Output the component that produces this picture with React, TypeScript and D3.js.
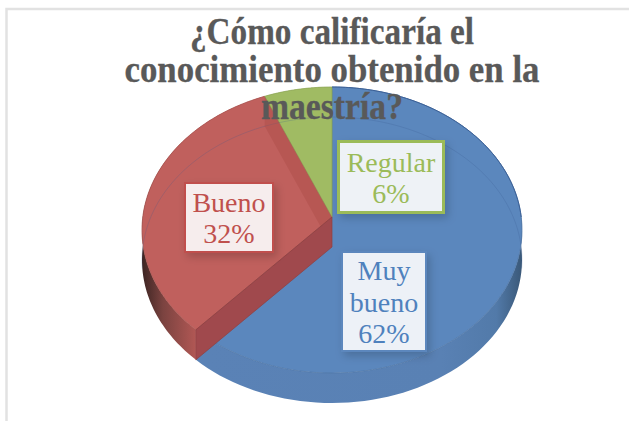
import React from "react";
import * as d3 from "d3";

const categories = ["Muy bueno", "Bueno", "Regular"];
const values = [61.7, 32.0, 6.3];
const colors = ["#5b87bd", "#c0605d", "#a0bb63"];
const titleLines = ["¿Cómo calificaría el", "conocimiento obtenido en la", "maestría?"];
const titleWidths = [284, 415, 142];
const labelLines = [["Muy", "bueno", "62%"], ["Bueno", "32%"], ["Regular", "6%"]];
const labelColors = ["#4f81bd", "#c0504d", "#9bbb59"];
const labelBoxes = [
  { x: 342, y: 252, w: 84, h: 99, fill: "#edf1f7", stroke: "#5b87bd", sw: 2, lh: 31.5, fs: 28, base: 280 },
  { x: 185, y: 183, w: 88, h: 69, fill: "#f6eded", stroke: "#c0504d", sw: 2, lh: 31, fs: 28, base: 212 },
  { x: 338.5, y: 141.5, w: 105, h: 71, fill: "#eef2f6", stroke: "#9bbb59", sw: 3, lh: 31, fs: 28, base: 172 },
];

const CX = 332, CY = 230, RX = 190, RY = 143, DEPTH = 30, PERSP = 0.091;

function project(theta: number, r = 1): [number, number] {
  const u = r * Math.sin(theta), v = -r * Math.cos(theta);
  const d = 1 - PERSP * v;
  return [CX + (RX * u * Math.sqrt(1 - PERSP * PERSP)) / d, CY + (RY * (v - PERSP)) / d];
}
const down = (p: [number, number]): [number, number] => [p[0], p[1] + DEPTH];
const line = d3.line();

function arcPts(a0: number, a1: number) {
  return d3.range(0, 101).map((i) => project(a0 + ((a1 - a0) * i) / 100));
}

export default function App() {
  const pie = d3.pie<number>().sort(null)(values);
  const apex = project(0, 0);
  const apexB = down(apex);
  return (
    <svg width={629} height={421} style={{ position: "absolute", left: 0, top: 0, background: "#fff" }}>
      <defs>
        <linearGradient id="sideBlue" gradientUnits="userSpaceOnUse" x1={200} x2={522} y1={0} y2={0}>
          <stop offset="0" stopColor="#5a82b6" />
          <stop offset="0.75" stopColor="#5981b4" />
          <stop offset="0.92" stopColor="#527aa9" />
          <stop offset="1" stopColor="#3a5878" />
        </linearGradient>
        <linearGradient id="sideRed" gradientUnits="userSpaceOnUse" x1={143} x2={200} y1={0} y2={0}>
          <stop offset="0" stopColor="#3f2624" />
          <stop offset="0.35" stopColor="#7b4340" />
          <stop offset="1" stopColor="#b85a57" />
        </linearGradient>
        <filter id="shadow" x="-30%" y="-30%" width="160%" height="160%">
          <feDropShadow dx="3" dy="4" stdDeviation="4" floodColor="#000" floodOpacity="0.18" />
        </filter>
      </defs>
      <rect x={6.5} y={9} width={640} height={430} fill="#fff" stroke="#e2e2e2" strokeWidth={2.5} />
      {pie.map((s, i) => {
        const pts = arcPts(s.startAngle, s.endAngle);
        const poly = [...pts, ...pts.slice().reverse().map(down)];
        return (
          <path key={"side" + i} d={line(poly)! + "Z"}
            fill={i === 0 ? "url(#sideBlue)" : i === 1 ? "url(#sideRed)" : colors[i]} />
        );
      })}
      {pie.map((s, i) => (
        <path key={"top" + i} d={line([apex, ...arcPts(s.startAngle, s.endAngle)])! + "Z"}
          fill={colors[i]} stroke={d3.color(colors[i])!.darker(0.35).formatHex()} strokeWidth={0.8} />
      ))}
      {/* far rim of the base, seen through the translucent top */}
      <path d={line(arcPts(-Math.PI / 2 - 0.15, Math.PI / 2 + 0.15).map(down))!} fill="none" stroke="#38588c" strokeOpacity={0.22} strokeWidth={1} />
      {/* cut walls of the red slice */}
      {(() => {
        const s = pie[1];
        const p0 = project(s.startAngle), p1 = project(s.endAngle);
        return (
          <g>
            <path d={line([p1, apex, apexB, down(p1)])! + "Z"} fill="#a84a44" fillOpacity={0.38} />
            <path d={line([p0, apex, apexB, down(p0)])! + "Z"} fill="#a0494d" stroke="#8f3f3f" strokeWidth={0.7} />
          </g>
        );
      })()}
      {/* blue rim across the front */}
      <path d={line(arcPts(pie[0].startAngle, Math.PI / 2))!} fill="none" stroke="#3c6198" strokeWidth={1} />
      {labelBoxes.map((b, i) => (
        <g key={categories[i]}>
          <rect x={b.x} y={b.y} width={b.w} height={b.h} fill={b.fill} stroke={b.stroke} strokeWidth={b.sw} filter="url(#shadow)" />
          {labelLines[i].map((t, j) => (
            <text key={j} x={b.x + b.w / 2} y={b.base + j * b.lh} textAnchor="middle"
              fontFamily="'Liberation Serif', serif" fontSize={b.fs} fill={labelColors[i]}>{t}</text>
          ))}
        </g>
      ))}
      {titleLines.map((t, i) => (
        <text key={i} x={332} y={44 + i * 37.5} textAnchor="middle" textLength={titleWidths[i]} lengthAdjust="spacingAndGlyphs"
          fontFamily="'Liberation Serif', serif" fontWeight="bold" fontSize={37} fill="#595959" stroke="#595959" strokeWidth={0.3}>{t}</text>
      ))}
    </svg>
  );
}
